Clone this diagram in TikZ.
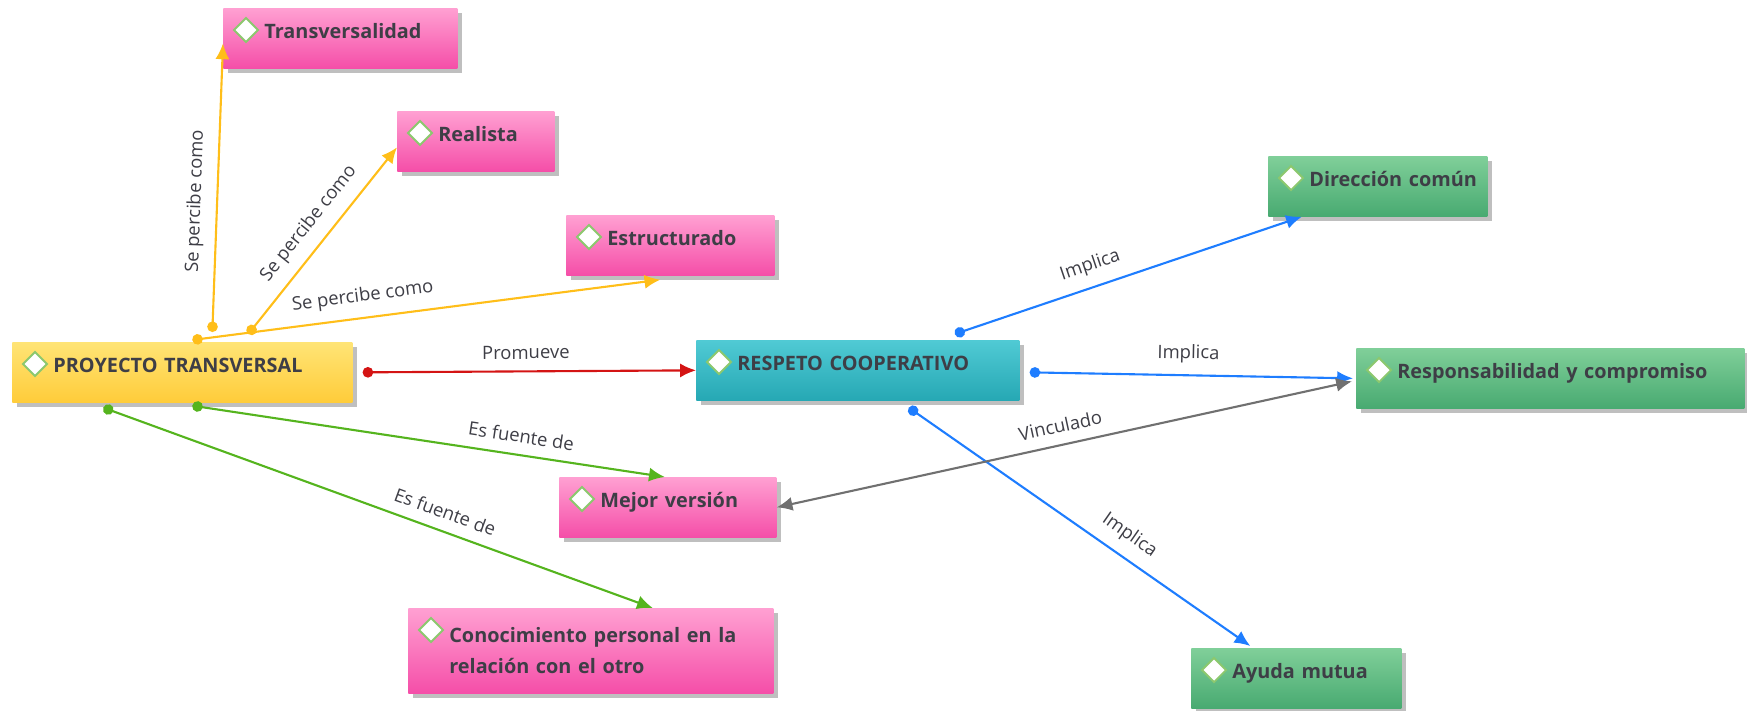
\documentclass[tikz,border=0pt]{standalone}
\usepackage{fontspec}
\setmainfont{Open Sans}
\usetikzlibrary{arrows.meta,calc,shadows,shapes.geometric}

\definecolor{pinkTop}{RGB}{255,160,210}
\definecolor{pinkBot}{RGB}{245,78,168}
\definecolor{goldTop}{RGB}{255,228,118}
\definecolor{goldBot}{RGB}{255,204,58}
\definecolor{tealTop}{RGB}{80,202,212}
\definecolor{tealBot}{RGB}{38,168,180}
\definecolor{greenTop}{RGB}{128,207,153}
\definecolor{greenBot}{RGB}{72,170,113}
\definecolor{txtGray}{RGB}{62,62,70}
\definecolor{gemGreen}{RGB}{140,200,110}
\definecolor{yellowLine}{RGB}{255,190,25}
\definecolor{redLine}{RGB}{212,20,20}
\definecolor{greenLine}{RGB}{85,180,30}
\definecolor{blueLine}{RGB}{30,125,255}
\definecolor{grayLine}{RGB}{112,112,112}

\begin{document}
\begin{tikzpicture}[x=0.02cm, y=-0.02cm,
    box/.style={rectangle, anchor=north west, inner xsep=0.82cm, inner ysep=0.2cm,
        text height=0.40cm, text depth=0.40cm, align=left, text=txtGray,
        font=\fontsize{11.3}{17.5}\selectfont\bfseries,
        drop shadow={shadow xshift=0.09cm, shadow yshift=-0.09cm, opacity=0.5}},
    pinkBox/.style={box, top color=pinkTop, bottom color=pinkBot},
    goldBox/.style={box, top color=goldTop, bottom color=goldBot},
    tealBox/.style={box, top color=tealTop, bottom color=tealBot},
    greenBox/.style={box, top color=greenTop, bottom color=greenBot},
    gem/.style={diamond, draw=gemGreen, fill=white, line width=1.1pt,
        minimum width=0.5cm, minimum height=0.5cm, inner sep=0pt},
    link/.style={line width=1.2pt, arrows={Circle[length=6pt]-Latex[length=9pt,width=8pt]}},
    lbl/.style={font=\fontsize{10.5}{12}\selectfont, text=txtGray, sloped, above=3pt}]
    \useasboundingbox (0,0) rectangle (1747,710);

    \node[pinkBox, text width=3.04cm](transversalidad) at (223,8) {\mbox{Transversalidad}};
    \node[pinkBox, text width=1.5cm](realista) at (397,111) {\mbox{Realista}};
    \node[pinkBox, text width=2.52cm](estructurado) at (566,215) {\mbox{Estructurado}};
    \node[goldBox, text width=5.16cm](proyecto) at (12,342) {\mbox{PROYECTO TRANSVERSAL}};
    \node[tealBox, text width=4.82cm](respeto) at (696,340) {\mbox{RESPETO COOPERATIVO}};
    \node[greenBox, text width=2.74cm](direccion) at (1268,156) {\mbox{Dirección común}};
    \node[greenBox, text width=6.12cm](responsabilidad) at (1356,348) {\mbox{Responsabilidad y compromiso}};
    \node[pinkBox, text width=2.7cm](mejorVersion) at (559,477) {\mbox{Mejor versión}};
    \node[pinkBox, text width=5.66cm, text height={}, text depth={}, minimum height=1.7cm](conocimiento) at (408,608) {\mbox{Conocimiento personal en la}\\\mbox{relación con el otro}};
    \node[greenBox, text width=2.56cm](ayudaMutua) at (1191,648) {\mbox{Ayuda mutua}};

    \foreach \n in {transversalidad,realista,estructurado,proyecto,respeto,direccion,responsabilidad,mejorVersion,conocimiento,ayudaMutua}
        \node[gem](\n Gem) at ($(\n.north west)+(23,22)$) {};

    \draw[link, yellowLine] ($(proyecto.north)+(30,-10)$) -- ($(transversalidad.west)+(0,5)$) node[lbl, pos=0.45]{Se percibe como};
    \draw[link, yellowLine] ($(proyecto.north)+(66,-8)$) -- ($(realista.west)+(0,6)$) node[lbl, pos=0.52]{Se percibe como};
    \draw[link, yellowLine] ($(proyecto.north)+(10,-2)$) -- ($(estructurado.south)+(-10,4)$) node[lbl, pos=0.37]{Se percibe como};

    \draw[link, redLine] ($(proyecto.east)+(10,0)$) -- (respeto.west) node[lbl, pos=0.49]{Promueve};

    \draw[link, greenLine] ($(proyecto.south)+(10,3)$) -- ($(mejorVersion.north)+(-3,0)$) node[lbl, pos=0.69]{Es fuente de};
    \draw[link, greenLine] ($(proyecto.south)+(-79,5)$) -- ($(conocimiento.north)+(62,0)$) node[lbl, pos=0.61]{Es fuente de};

    \draw[link, blueLine] ($(respeto.north)+(97,-6)$) -- ($(direccion.south)+(-76,0)$) node[lbl, pos=0.41]{Implica};
    \draw[link, blueLine] ($(respeto.east)+(10,2)$) -- ($(responsabilidad.west)+(-3,0)$) node[lbl, pos=0.49]{Implica};
    \draw[link, blueLine] ($(respeto.south)+(51,7)$) -- ($(ayudaMutua.north)+(-46,-2)$) node[lbl, pos=0.61]{Implica};

    \draw[line width=1.2pt, grayLine, arrows={Latex[length=9pt,width=8pt]-Latex[length=9pt,width=8pt]}] ($(responsabilidad.west)+(-4,3)$) -- (mejorVersion.east) node[lbl, pos=0.5]{Vinculado};
\end{tikzpicture}
\end{document}
